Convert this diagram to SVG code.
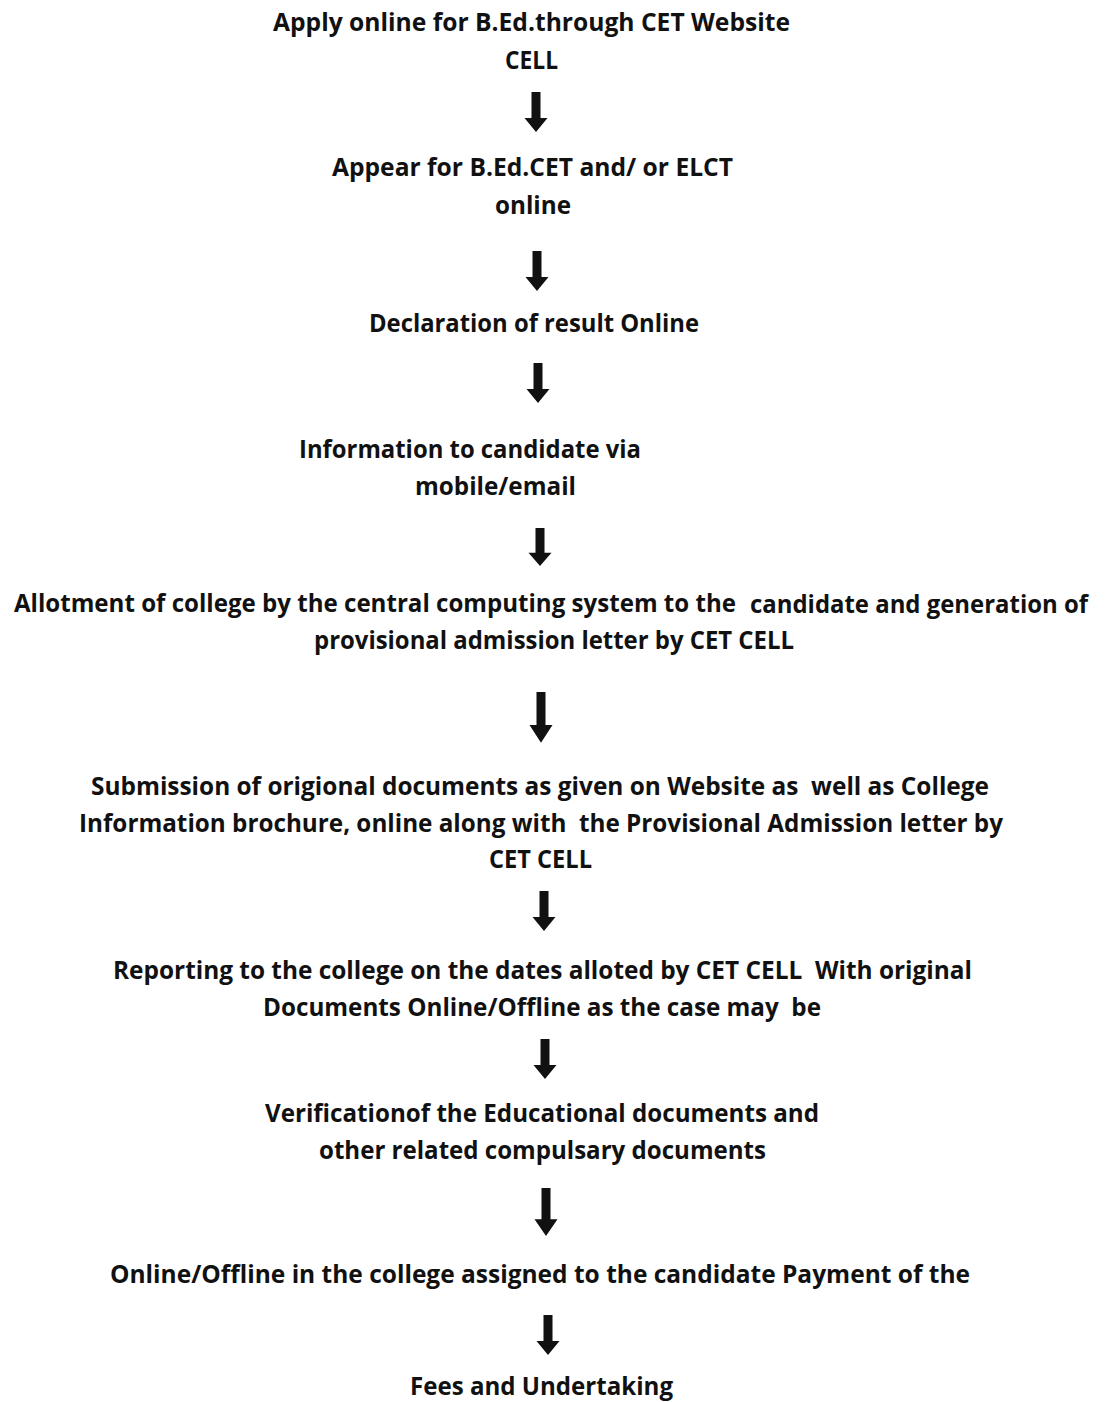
<svg xmlns="http://www.w3.org/2000/svg" width="1107" height="1402" viewBox="0 0 1107 1402">
<style>
  text { font-family: "Open Sans", "Noto Sans", "Liberation Sans", sans-serif; font-weight: bold; font-size: 25.5px; fill: #111; }
  .arrow { fill: #111; }
</style>
<defs>
  <path id="arr" d="M -4.5 0 H 4.5 V 26 H 11.5 L 0 40 L -11.5 26 H -4.5 Z"/>
</defs>
<rect width="1107" height="1402" fill="#fff"/>
<g id="n1">
  <text x="273" y="31" textLength="517" lengthAdjust="spacingAndGlyphs">Apply online for B.Ed.through CET Website</text>
  <text x="505" y="69" textLength="53" lengthAdjust="spacingAndGlyphs">CELL</text>
</g>
<g id="n2">
  <text x="332" y="176" textLength="401" lengthAdjust="spacingAndGlyphs">Appear for B.Ed.CET and/ or ELCT</text>
  <text x="495" y="214" textLength="76" lengthAdjust="spacingAndGlyphs">online</text>
</g>
<g id="n3">
  <text x="369" y="332" textLength="330" lengthAdjust="spacingAndGlyphs">Declaration of result Online</text>
</g>
<g id="n4">
  <text x="299" y="458" textLength="342" lengthAdjust="spacingAndGlyphs">Information to candidate via</text>
  <text x="415" y="495" textLength="161" lengthAdjust="spacingAndGlyphs">mobile/email</text>
</g>
<g id="n5">
  <text x="14" y="612" font-size="24.5" textLength="722" lengthAdjust="spacingAndGlyphs">Allotment of college by the central computing system to the</text>
  <text x="750" y="613" font-size="23" textLength="338" lengthAdjust="spacingAndGlyphs">candidate and generation of</text>
  <text x="314" y="649" textLength="480" lengthAdjust="spacingAndGlyphs">provisional admission letter by CET CELL</text>
</g>
<g id="n6">
  <text x="91" y="795" textLength="898" lengthAdjust="spacingAndGlyphs" xml:space="preserve">Submission of origional documents as given on Website as  well as College</text>
  <text x="79" y="832" textLength="924" lengthAdjust="spacingAndGlyphs" xml:space="preserve">Information brochure, online along with  the Provisional Admission letter by</text>
  <text x="489" y="868" textLength="103" lengthAdjust="spacingAndGlyphs">CET CELL</text>
</g>
<g id="n7">
  <text x="113" y="979" textLength="859" lengthAdjust="spacingAndGlyphs" xml:space="preserve">Reporting to the college on the dates alloted by CET CELL  With original</text>
  <text x="263" y="1016" textLength="558" lengthAdjust="spacingAndGlyphs" xml:space="preserve">Documents Online/Offline as the case may  be</text>
</g>
<g id="n8">
  <text x="265" y="1122" textLength="554" lengthAdjust="spacingAndGlyphs">Verificationof the Educational documents and</text>
  <text x="319" y="1159" textLength="447" lengthAdjust="spacingAndGlyphs">other related compulsary documents</text>
</g>
<g id="n9">
  <text x="110" y="1283" textLength="860" lengthAdjust="spacingAndGlyphs">Online/Offline in the college assigned to the candidate Payment of the</text>
</g>
<g id="n10">
  <text x="410" y="1395" textLength="263" lengthAdjust="spacingAndGlyphs">Fees and Undertaking</text>
</g>
<g id="connectors" class="arrow">
  <use href="#arr" transform="translate(536,92)"/>
  <use href="#arr" transform="translate(537,251)"/>
  <use href="#arr" transform="translate(538,363)"/>
  <use href="#arr" transform="translate(540,528) scale(1,0.95)"/>
  <use href="#arr" transform="translate(541,692) scale(1,1.27)"/>
  <use href="#arr" transform="translate(544,891)"/>
  <use href="#arr" transform="translate(545,1039)"/>
  <use href="#arr" transform="translate(546,1188) scale(1,1.2)"/>
  <use href="#arr" transform="translate(548,1315)"/>
</g>
</svg>
